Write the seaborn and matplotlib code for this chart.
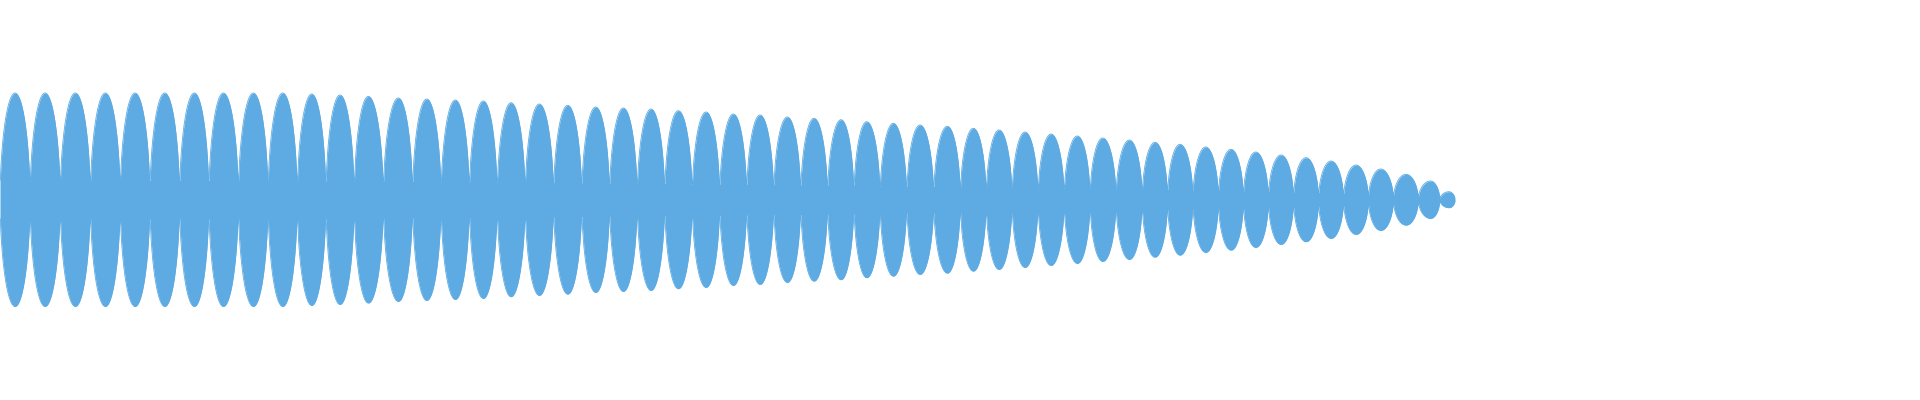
import numpy as np
import pandas as pd
import matplotlib
matplotlib.use("Agg")
import matplotlib.pyplot as plt
import seaborn as sns

sns.set_theme(style="white")

# lobe centres (x) and peak amplitude of each lobe
lobe_x = [15, 45, 75.3, 105.3, 135, 164.7, 194.3, 223.3, 253.3, 282.7,
          311.7, 340, 368.3, 398.3, 426.7, 455.3, 483.3, 511, 539.3, 567.7,
          595.7, 623.3, 651, 678.3, 706, 733.3, 760, 787.3, 814, 841,
          866.7, 893.3, 920, 947.3, 973.3, 999, 1025, 1051, 1077.3, 1102.7,
          1129.3, 1155, 1180, 1205.7, 1231, 1255.7, 1281, 1306, 1331, 1356,
          1380.7, 1406, 1430.5, 1449]
lobe_amp = [106.7, 106.7, 106.7, 106.7, 106.7, 106.7, 106.7, 106.7, 106.7, 106.7,
            105.7, 104.7, 103.3, 101.7, 100.7, 99.7, 98.7, 97, 95.7, 94.4,
            92.7, 91.7, 90.7, 89, 87.7, 85.7, 84.7, 82.7, 81.4, 80,
            78, 76.4, 74.7, 73.4, 71.4, 69.7, 67.7, 65.7, 63.7, 61.7,
            59.7, 57.4, 55.4, 52.7, 50.4, 47.7, 44.7, 42, 38.7, 34.7,
            30.7, 25.4, 18.7, 8]
start_x = 0.0
end_x = 1455.0

color = "#5DABE2"
waist = 0.18

# lobe edges: midpoints between neighbouring centres
cx = np.array(lobe_x)
amp = np.array(lobe_amp)
edges = np.concatenate([[start_x], (cx[1:] + cx[:-1]) / 2, [end_x]])

x = np.linspace(start_x, end_x, 30000)
idx = np.clip(np.searchsorted(edges, x, side="right") - 1, 0, len(cx) - 1)
left = x < cx[idx]
half = np.where(left, cx[idx] - edges[idx], edges[idx + 1] - cx[idx])
u = np.clip((x - cx[idx]) / half, -1, 1)
env = amp[idx] * np.maximum((1 - u ** 2) ** 0.55, waist)

df = pd.DataFrame({"x": x, "upper": env, "lower": -env})

fig = plt.figure(figsize=(19.2, 4), dpi=100)
ax = fig.add_axes([0, 0, 1, 1])
ax.fill_between(df["x"], df["lower"], df["upper"], color=color, linewidth=0)
sns.lineplot(data=df, x="x", y="upper", ax=ax, color=color, linewidth=0.6)
sns.lineplot(data=df, x="x", y="lower", ax=ax, color=color, linewidth=0.6)

ax.set_xlim(0, 1920)
ax.set_ylim(-200.3, 199.7)
ax.axis("off")

fig.savefig("out.png", dpi=100, facecolor="white")
